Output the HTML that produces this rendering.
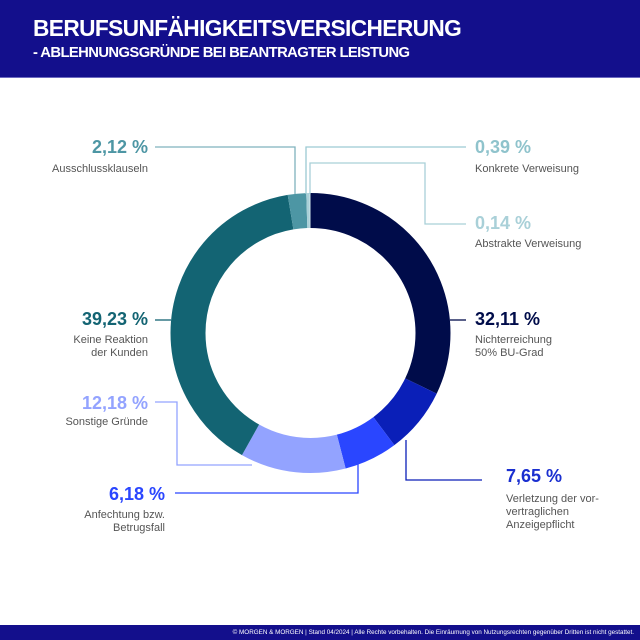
<!DOCTYPE html>
<html><head><meta charset="utf-8"><style>
body{margin:0;width:640px;height:640px;background:#fff;font-family:"Liberation Sans",sans-serif;position:relative;overflow:hidden}
.hdr{position:absolute;left:0;top:0;width:640px;height:77px;background:#130f8c;border-bottom:1px solid #6c6ac0}
.hdr div{position:absolute;left:33px;color:#fff;font-weight:bold;letter-spacing:-0.6px}
.ftr{position:absolute;left:0;top:625px;width:640px;height:15px;background:#130f8c;color:#fff;font-size:6.3px;text-align:right;line-height:15px;box-sizing:border-box;padding-right:6px}
.v{position:absolute;font-weight:bold;font-size:18px;white-space:nowrap}
.s{position:absolute;font-size:11px;color:#555;line-height:13px;white-space:nowrap}
.r{text-align:right}
</style></head><body>
<div class="hdr"><div style="top:15px;font-size:22.7px">BERUFSUNFÄHIGKEITSVERSICHERUNG</div><div style="top:45px;font-size:14.8px">- ABLEHNUNGSGRÜNDE BEI BEANTRAGTER LEISTUNG</div></div>
<svg width="640" height="640" style="position:absolute;left:0;top:0">
<g transform="rotate(-90 310.5 333)" fill="none" stroke-width="35">
<circle cx="310.5" cy="333" r="122.5" stroke="#000c4a" stroke-dasharray="247.15 1000" stroke-dashoffset="0"/>
<circle cx="310.5" cy="333" r="122.5" stroke="#0a1fb8" stroke-dasharray="58.88 1000" stroke-dashoffset="-247.15"/>
<circle cx="310.5" cy="333" r="122.5" stroke="#2a46ff" stroke-dasharray="47.57 1000" stroke-dashoffset="-306.03"/>
<circle cx="310.5" cy="333" r="122.5" stroke="#93a3ff" stroke-dasharray="93.75 1000" stroke-dashoffset="-353.6"/>
<circle cx="310.5" cy="333" r="122.5" stroke="#136473" stroke-dasharray="301.96 1000" stroke-dashoffset="-447.35"/>
<circle cx="310.5" cy="333" r="122.5" stroke="#4d96a4" stroke-dasharray="16.32 1000" stroke-dashoffset="-749.31"/>
<circle cx="310.5" cy="333" r="122.5" stroke="#a9d0d8" stroke-dasharray="3.0 1000" stroke-dashoffset="-765.63"/>
<circle cx="310.5" cy="333" r="122.5" stroke="#cfe6ea" stroke-dasharray="1.08 1000" stroke-dashoffset="-768.63"/>
</g>
<g fill="none" stroke-width="1.3">
<polyline points="155,147 295,147 295,194" stroke="#7fb2bd"/>
<polyline points="306,194 306,147 466,147" stroke="#9ccad3"/>
<polyline points="310,194 310,163 425,163 425,224 466,224" stroke="#a9d0d8"/>
<polyline points="155,320 171,320" stroke="#136473"/>
<polyline points="450,320 466,320" stroke="#000c4a"/>
<polyline points="155,402 177,402 177,465 252,465" stroke="#93a3ff"/>
<polyline points="175,493 358,493 358,463" stroke="#2a46ff"/>
<polyline points="406,440 406,480 482,480" stroke="#0a1fb8"/>
</g>
</svg>
<div class="v r" style="right:492px;top:137px;color:#4d96a4">2,12 %</div>
<div class="s r" style="right:492px;top:163px">Ausschlussklauseln</div>
<div class="v" style="left:475px;top:137px;color:#8fc3cc">0,39 %</div>
<div class="s" style="left:475px;top:163px">Konkrete Verweisung</div>
<div class="v" style="left:475px;top:213px;color:#a9d0d8">0,14 %</div>
<div class="s" style="left:475px;top:238px">Abstrakte Verweisung</div>
<div class="v r" style="right:492px;top:309px;color:#136473">39,23 %</div>
<div class="s r" style="right:492px;top:334px">Keine Reaktion<br>der Kunden</div>
<div class="v" style="left:475px;top:309px;color:#000c4a">32,11 %</div>
<div class="s" style="left:475px;top:334px">Nichterreichung<br>50% BU-Grad</div>
<div class="v r" style="right:492px;top:393px;color:#93a3ff">12,18 %</div>
<div class="s r" style="right:492px;top:416px">Sonstige Gründe</div>
<div class="v r" style="right:475px;top:484px;color:#2a46ff">6,18 %</div>
<div class="s r" style="right:475px;top:509px">Anfechtung bzw.<br>Betrugsfall</div>
<div class="v" style="left:506px;top:466px;color:#1a2fd0">7,65 %</div>
<div class="s" style="left:506px;top:493px">Verletzung der vor-<br>vertraglichen<br>Anzeigepflicht</div>
<div class="ftr">© MORGEN &amp; MORGEN | Stand 04/2024 | Alle Rechte vorbehalten. Die Einräumung von Nutzungsrechten gegenüber Dritten ist nicht gestattet.</div>
</body></html>
